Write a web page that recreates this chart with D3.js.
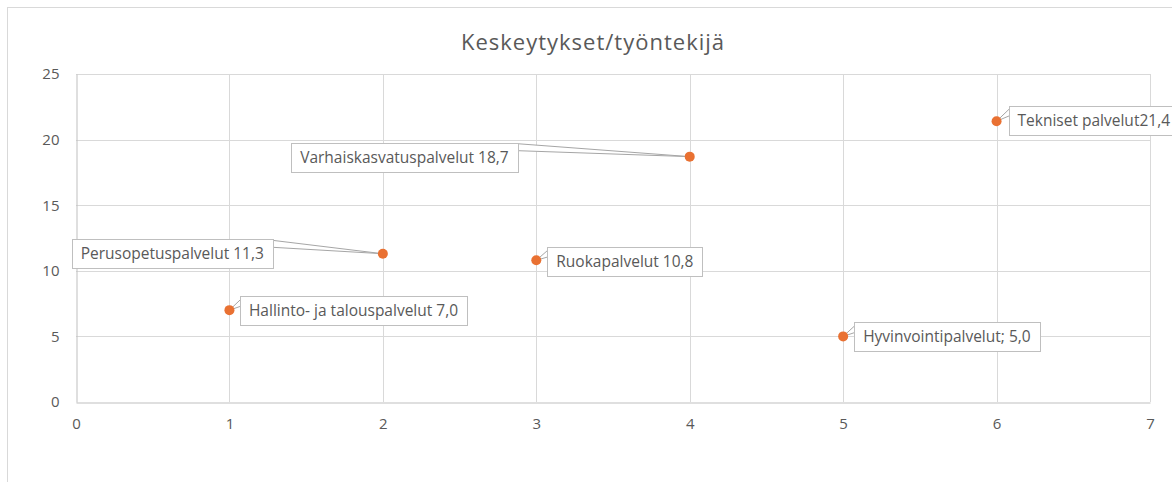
<!DOCTYPE html>
<html>
<head>
<meta charset="utf-8">
<script src="https://cdn.jsdelivr.net/npm/d3@7"></script>
<style>
  html, body { margin: 0; padding: 0; background: #fff; }
  svg { display: block; }
  text { font-family: "Open Sans", "Noto Sans", sans-serif; }
</style>
</head>
<body>
<div id="chart"></div>
<script>
// ---- data ----
const chartTitle = "Keskeytykset/työntekijä";
const categories = ["Hallinto- ja talouspalvelut", "Perusopetuspalvelut", "Ruokapalvelut",
                    "Varhaiskasvatuspalvelut", "Hyvinvointipalvelut", "Tekniset palvelut"];
const xValues = [1, 2, 3, 4, 5, 6];
const yValues = [7.0, 11.3, 10.8, 18.7, 5.0, 21.4];
const labelSeparators = [" ", " ", " ", " ", "; ", ""];
const xTicks = [0, 1, 2, 3, 4, 5, 6, 7];
const yTicks = [0, 5, 10, 15, 20, 25];

// ---- layout (label callout placement relative to the point) ----
const labelLayout = [
  { side: "right", gap: 10.5, dy: -14 },
  { side: "left",  gap: 110,  dy: -14.5 },
  { side: "right", gap: 11,   dy: -13.5 },
  { side: "left",  gap: 172,  dy: -14 },
  { side: "right", gap: 11,   dy: -14 },
  { side: "right", gap: 12,   dy: -15.5 }
];

const W = 1172, H = 482;
const svg = d3.select("#chart").append("svg").attr("width", W).attr("height", H);

// outer chart border
svg.append("rect").attr("x", 7.5).attr("y", 7.5).attr("width", W + 10).attr("height", H + 10)
  .attr("fill", "#fff").attr("stroke", "#d9d9d9").attr("stroke-width", 1);

const x = d3.scaleLinear().domain([0, 7]).range([76, 1150]);
const y = d3.scaleLinear().domain([0, 25]).range([402, 74]);

// title
svg.append("text").attr("x", 593).attr("y", 50).attr("text-anchor", "middle")
  .attr("font-size", 22).attr("letter-spacing", 1).attr("fill", "#595959").text(chartTitle);

// gridlines
const g = svg.append("g");
g.selectAll(".hg").data(yTicks.filter(d => d !== 0)).enter().append("line")
  .attr("x1", x(0)).attr("x2", x(7)).attr("y1", d => Math.round(y(d)) + 0.5).attr("y2", d => Math.round(y(d)) + 0.5)
  .attr("stroke", "#d9d9d9").attr("stroke-width", 1);
g.selectAll(".vg").data(xTicks.filter(d => d !== 0)).enter().append("line")
  .attr("y1", y(0)).attr("y2", y(25)).attr("x1", d => Math.round(x(d)) + 0.5).attr("x2", d => Math.round(x(d)) + 0.5)
  .attr("stroke", "#d9d9d9").attr("stroke-width", 1);

// axes
const xAxis = d3.axisBottom(x).tickValues(xTicks).tickSize(0).tickPadding(16).tickFormat(d3.format("d"));
const yAxis = d3.axisLeft(y).tickValues(yTicks).tickSize(0).tickPadding(17).tickFormat(d3.format("d"));
const xa = svg.append("g").attr("transform", `translate(0,${Math.round(y(0)) + 0.5})`).call(xAxis);
const ya = svg.append("g").attr("transform", `translate(${Math.round(x(0)) + 0.5},0)`).call(yAxis);
[xa, ya].forEach(a => {
  a.select(".domain").attr("stroke", "#bfbfbf").attr("stroke-width", 1);
  a.selectAll("text").attr("font-size", 15).attr("fill", "#595959")
    .style("font-family", '"Open Sans", "Noto Sans", sans-serif');
});

// points
const pts = xValues.map((v, i) => ({ x: v, y: yValues[i], cat: categories[i], sep: labelSeparators[i], lay: labelLayout[i] }));
const fmt = v => d3.format(".1f")(v).replace(".", ",");

// labels (callouts)
const lg = svg.append("g");
const boxH = 29, padX = 9, fontSize = 15.5;
pts.forEach(d => {
  const px = x(d.x), py = y(d.y);
  const t = lg.append("text").attr("font-size", fontSize).attr("fill", "#595959")
    .text(d.cat + d.sep + fmt(d.y));
  const tw = t.node().getComputedTextLength();
  const bw = tw + 2 * padX;
  const bx = d.lay.side === "right" ? px + d.lay.gap : px - d.lay.gap - bw;
  const by = py + d.lay.dy;
  let wedge;
  if (d.lay.side === "right") {
    wedge = [[bx + 1, by + 3], [px, py], [bx + 1, by + 10]];
  } else {
    wedge = [[bx + bw - 1, by + 1], [px, py], [bx + bw - 1, by + 8]];
  }
  lg.append("path").attr("d", d3.line()(wedge) + "Z")
    .attr("fill", "#fff").attr("stroke", "#a6a6a6").attr("stroke-width", 1);
  lg.append("rect").attr("x", Math.round(bx) + 0.5).attr("y", Math.round(by) + 0.5)
    .attr("width", Math.round(bw)).attr("height", boxH)
    .attr("fill", "#fff").attr("stroke", "#bfbfbf").attr("stroke-width", 1);
  t.attr("x", bx + padX).attr("y", by + 20).raise();
});

svg.append("g").selectAll("circle").data(pts).enter().append("circle")
  .attr("cx", d => x(d.x)).attr("cy", d => y(d.y)).attr("r", 5)
  .attr("fill", "#E97132");
</script>
</body>
</html>
